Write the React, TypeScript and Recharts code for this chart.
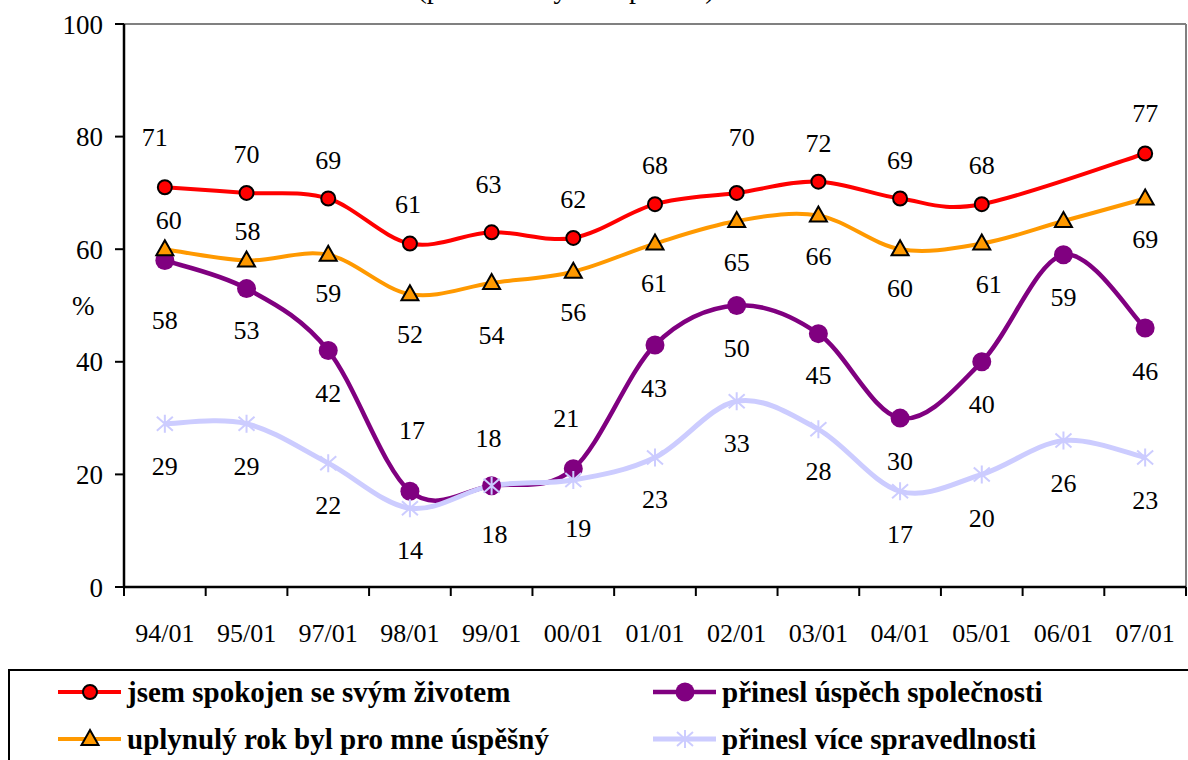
import { LineChart, Line, XAxis, YAxis, CartesianGrid, LabelList } from 'recharts';

// Survey waves (month/year)
const CATEGORIES = ['94/01', '95/01', '97/01', '98/01', '99/01', '00/01', '01/01', '02/01', '03/01', '04/01', '05/01', '06/01', '07/01'];

// Series values in %
const SPOKOJEN = [71, 70, 69, 61, 63, 62, 68, 70, 72, 69, 68, null, 77];
const USPECH_SPOLECNOSTI = [58, 53, 42, 17, 18, 21, 43, 50, 45, 30, 40, 59, 46];
const USPESNY_ROK = [60, 58, 59, 52, 54, 56, 61, 65, 66, 60, 61, 65, 69];
const SPRAVEDLNOST = [29, 29, 22, 14, 18, 19, 23, 33, 28, 17, 20, 26, 23];

const Y_TICKS = [0, 20, 40, 60, 80, 100];

// Label placement relative to each point (px), null = no label
const DY_SPOKOJEN = [-50, -39, -39, -40, -48, -39, -39, -56, -39, -39, -39, null, -41];
const DX_SPOKOJEN = [-10, 0, 0, -2, -3, 0, 0, 5, 0, 0, 0, 0, 0];
const DY_USPECH = [59, 41, 42, -61, -48, -51, 43, 42, 41, 43, 42, 42, 43];
const DX_USPECH = [0, 0, 0, 2, -3, -7, -1, 0, 0, 0, 0, 0, 0];
const DY_ROK = [-29, -30, 38, 40, 52, 40, 39, 41, 40, 39, 40, null, 40];
const DX_ROK = [4, 1, 0, 0, 0, 0, -1, 0, 0, 0, 7, 0, 0];
const DY_SPRAV = [42, 42, 42, 42, 48, 48, 41, 42, 42, 43, 43, 42, 42];
const DX_SPRAV = [0, 0, 0, 0, 3, 5, 0, 0, 0, 0, 0, 0, 0];

const data = CATEGORIES.map((c, i) => ({
  cat: c,
  spokojen: SPOKOJEN[i],
  uspech: USPECH_SPOLECNOSTI[i],
  rok: USPESNY_ROK[i],
  sprav: SPRAVEDLNOST[i],
}));

const W = 1188;
const H = 760;
const PLOT_LEFT = 124;
const PLOT_RIGHT = 1186;
const PLOT_TOP = 24;
const PLOT_BOTTOM = 587;
const X_AXIS_H = 60;
const BAND = (PLOT_RIGHT - PLOT_LEFT) / CATEGORIES.length;

const FONT = "'Liberation Serif', 'Times New Roman', serif";

const RED = '#FF0000';
const PURPLE = '#800080';
const ORANGE = '#FF9900';
const LAVENDER = '#CCCCFF';

// Excel-like smoothed line (Catmull-Rom as cubic bezier)
function excelSmooth(context: any) {
  let pts: number[][] = [];
  return {
    areaStart() {},
    areaEnd() {},
    lineStart() {
      pts = [];
    },
    point(x: number, y: number) {
      pts.push([+x, +y]);
    },
    lineEnd() {
      if (!pts.length) return;
      context.moveTo(pts[0][0], pts[0][1]);
      for (let i = 0; i < pts.length - 1; i++) {
        const p0 = pts[i - 1] || pts[i];
        const p1 = pts[i];
        const p2 = pts[i + 1];
        const p3 = pts[i + 2] || pts[i + 1];
        context.bezierCurveTo(
          p1[0] + (p2[0] - p0[0]) / 6,
          p1[1] + (p2[1] - p0[1]) / 6,
          p2[0] - (p3[0] - p1[0]) / 6,
          p2[1] - (p3[1] - p1[1]) / 6,
          p2[0],
          p2[1]
        );
      }
    },
  };
}

const RedDot = (p: any) => {
  if (p.cy == null || p.value == null) return <g key={p.index} />;
  return <circle key={p.index} cx={p.cx} cy={p.cy} r={7} fill={RED} stroke="#000" strokeWidth={2} />;
};

const PurpleDot = (p: any) => {
  if (p.cy == null) return <g key={p.index} />;
  return <circle key={p.index} cx={p.cx} cy={p.cy} r={9.5} fill={PURPLE} />;
};

const triPath = (x: number, y: number) => `M${x},${y - 9}L${x + 8.5},${y + 6}L${x - 8.5},${y + 6}Z`;

const OrangeDot = (p: any) => {
  if (p.cy == null) return <g key={p.index} />;
  return <path key={p.index} d={triPath(p.cx, p.cy)} fill={ORANGE} stroke="#000" strokeWidth={2} strokeLinejoin="miter" />;
};

const starPath = (x: number, y: number) =>
  `M${x},${y - 9}L${x},${y + 9}M${x - 8},${y - 7}L${x + 8},${y + 7}M${x - 8},${y + 7}L${x + 8},${y - 7}`;

const StarDot = (p: any) => {
  if (p.cy == null) return <g key={p.index} />;
  return <path key={p.index} d={starPath(p.cx, p.cy)} stroke={LAVENDER} strokeWidth={2} fill="none" />;
};

const makeLabel = (dys: (number | null)[], dxs: number[]) => (p: any) => {
  const { x, y, value, index } = p;
  if (value == null || dys[index] == null || x == null || y == null) return null;
  return (
    <text
      key={index}
      x={x + dxs[index]}
      y={y + (dys[index] as number)}
      dy="0.35em"
      textAnchor="middle"
      fontSize={26}
      fontFamily={FONT}
      fill="#000"
    >
      {value}
    </text>
  );
};

function XTick(props: any) {
  const { x, payload, index } = props;
  const half = BAND / 2;
  return (
    <g>
      <line x1={x - half} x2={x - half} y1={PLOT_BOTTOM} y2={PLOT_BOTTOM + 9} stroke="#000" strokeWidth={2} />
      {index === CATEGORIES.length - 1 && (
        <line x1={x + half} x2={x + half} y1={PLOT_BOTTOM} y2={PLOT_BOTTOM + 9} stroke="#000" strokeWidth={2} />
      )}
      <text x={x} y={PLOT_BOTTOM + 46} dy="0.35em" textAnchor="middle" fontSize={26} fontFamily={FONT} fill="#000">
        {payload.value}
      </text>
    </g>
  );
}

function LegendItem({ x, y, color, marker, label, width = 4 }: any) {
  return (
    <g>
      <line x1={x} x2={x + 63} y1={y} y2={y} stroke={color} strokeWidth={width} />
      {marker(x + 32, y)}
      <text x={x + 69} y={y} dy="0.35em" fontSize={29} fontWeight="bold" fontFamily={FONT} fill="#000">
        {label}
      </text>
    </g>
  );
}

export default function App() {
  return (
    <div style={{ position: 'absolute', left: 0, top: 0, width: W, height: H, overflow: 'hidden', background: '#fff' }}>
      <svg width={W} height={20} style={{ position: 'absolute', left: 0, top: 0 }}>
        <text x={566} y={-2} textAnchor="middle" fontSize={28} fontFamily={FONT} fill="#000">
          (podíl kladných odpovědí)
        </text>
      </svg>
      <LineChart
        width={W}
        height={H}
        data={data}
        margin={{ top: PLOT_TOP, right: W - PLOT_RIGHT, left: 0, bottom: H - PLOT_BOTTOM - X_AXIS_H }}
      >
        <CartesianGrid
          stroke="#808080"
          strokeWidth={2}
          horizontalCoordinatesGenerator={({ offset }: any) => [offset.top]}
          verticalCoordinatesGenerator={({ offset }: any) => [offset.left + offset.width]}
        />
        <XAxis
          dataKey="cat"
          interval={0}
          height={X_AXIS_H}
          padding={{ left: BAND / 2, right: BAND / 2 }}
          axisLine={{ stroke: '#000', strokeWidth: 2.5 }}
          tickLine={false}
          tickSize={9}
          tickMargin={0}
          tick={<XTick />}
        />
        <YAxis
          width={PLOT_LEFT}
          domain={[0, 100]}
          ticks={Y_TICKS}
          interval={0}
          axisLine={{ stroke: '#000', strokeWidth: 2.5 }}
          tickLine={{ stroke: '#000', strokeWidth: 2 }}
          tickSize={9}
          tickMargin={12}
          tick={{ fontSize: 27, fontFamily: FONT, fill: '#000' }}
          label={{ value: '%', position: 'insideLeft', offset: 72, fontSize: 27, fontFamily: FONT, fill: '#000' }}
        />
        <Line
          dataKey="spokojen"
          type={excelSmooth as any}
          stroke={RED}
          strokeWidth={4}
          connectNulls
          dot={RedDot}
          activeDot={false}
          isAnimationActive={false}
        >
          <LabelList dataKey="spokojen" content={makeLabel(DY_SPOKOJEN, DX_SPOKOJEN)} />
        </Line>
        <Line
          dataKey="uspech"
          type={excelSmooth as any}
          stroke={PURPLE}
          strokeWidth={4.5}
          dot={PurpleDot}
          activeDot={false}
          isAnimationActive={false}
        >
          <LabelList dataKey="uspech" content={makeLabel(DY_USPECH, DX_USPECH)} />
        </Line>
        <Line
          dataKey="rok"
          type={excelSmooth as any}
          stroke={ORANGE}
          strokeWidth={4}
          dot={OrangeDot}
          activeDot={false}
          isAnimationActive={false}
        >
          <LabelList dataKey="rok" content={makeLabel(DY_ROK, DX_ROK)} />
        </Line>
        <Line
          dataKey="sprav"
          type={excelSmooth as any}
          stroke={LAVENDER}
          strokeWidth={5}
          dot={StarDot}
          activeDot={false}
          isAnimationActive={false}
        >
          <LabelList dataKey="sprav" content={makeLabel(DY_SPRAV, DX_SPRAV)} />
        </Line>
      </LineChart>
      <svg width={W} height={H - 668} style={{ position: 'absolute', left: 0, top: 668 }}>
        <rect x={9} y={2} width={W + 20} height={200} fill="none" stroke="#000" strokeWidth={2} />
        <LegendItem
          x={58}
          y={24}
          color={RED}
          label="jsem spokojen se svým životem"
          marker={(cx: number, cy: number) => <circle cx={cx} cy={cy} r={7} fill={RED} stroke="#000" strokeWidth={2} />}
        />
        <LegendItem
          x={653}
          y={24}
          color={PURPLE}
          width={4.5}
          label="přinesl úspěch společnosti"
          marker={(cx: number, cy: number) => <circle cx={cx} cy={cy} r={9.5} fill={PURPLE} />}
        />
        <LegendItem
          x={58}
          y={71}
          color={ORANGE}
          label="uplynulý rok byl pro mne úspěšný"
          marker={(cx: number, cy: number) => (
            <path d={triPath(cx, cy)} fill={ORANGE} stroke="#000" strokeWidth={2} />
          )}
        />
        <LegendItem
          x={653}
          y={71}
          color={LAVENDER}
          width={5}
          label="přinesl více spravedlnosti"
          marker={(cx: number, cy: number) => (
            <path d={starPath(cx, cy)} stroke={LAVENDER} strokeWidth={2} fill="none" />
          )}
        />
      </svg>
    </div>
  );
}
